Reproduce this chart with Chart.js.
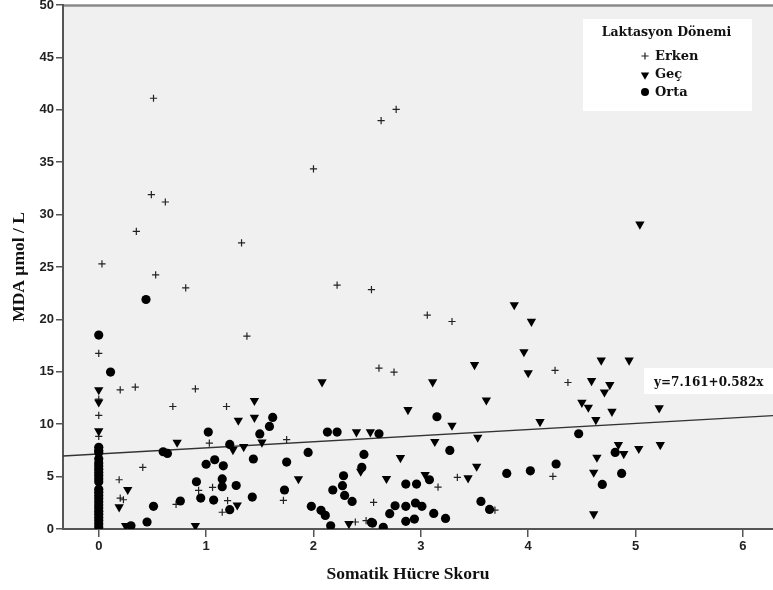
<!DOCTYPE html>
<html>
<head>
<meta charset="utf-8">
<script src="https://cdn.jsdelivr.net/npm/chart.js@4.4.1/dist/chart.umd.min.js"></script>
<style>
  html, body { margin: 0; padding: 0; background: #ffffff; overflow: hidden; }
  #wrap { width: 773px; height: 590px; position: relative; }
  canvas { display: block; }
</style>
</head>
<body>
<div id="wrap"><canvas id="c" width="773" height="590"></canvas></div>
<script>
// ---- data ----
const seriesNames = ['Erken', 'Geç', 'Orta'];
const legendTitle = 'Laktasyon Dönemi';
const xTitle = 'Somatik Hücre Skoru';
const yTitle = 'MDA µmol / L';
const xTicks = [0, 1, 2, 3, 4, 5, 6];
const yTicks = [0, 5, 10, 15, 20, 25, 30, 35, 40, 45, 50];
const regIntercept = 7.161;
const regSlope = 0.582;
const regLabel = 'y=7.161+0.582x';

const erkenX = [0.51, 0.49, 0.62, 0.35, 1.33, 0.03, 0.53, 0.81, 1.38, 0.00, 2.77, 2.63, 2.00, 2.22, 2.54, 3.06, 3.29, 2.61, 2.75, 0.20, 0.34, 0.90, 0.00, 0.00, 0.69, 1.19, 0.00, 1.03, 1.75, 0.41, 1.06, 0.93, 0.19, 0.20, 0.23, 0.72, 1.20, 1.15, 1.72, 2.56, 2.39, 2.49, 3.16, 3.34, 3.69, 4.25, 4.37, 4.23];
const erkenY = [41.1, 31.9, 31.2, 28.4, 27.3, 25.3, 24.25, 23.0, 18.4, 16.75, 40.05, 38.97, 34.36, 23.27, 22.85, 20.4, 19.8, 15.35, 14.97, 13.28, 13.54, 13.38, 12.4, 10.85, 11.69, 11.69, 8.83, 8.2, 8.52, 5.88, 3.97, 3.68, 4.7, 2.95, 2.79, 2.35, 2.7, 1.6, 2.73, 2.54, 0.67, 0.79, 4.0, 4.92, 1.8, 15.13, 13.98, 5.02];

const gecX = [0.00, 0.00, 0.00, 0.27, 0.19, 0.25, 0.90, 0.73, 1.30, 1.45, 1.45, 1.25, 1.35, 1.29, 1.52, 1.86, 2.08, 3.11, 3.61, 2.88, 3.29, 2.40, 2.53, 3.53, 3.13, 2.81, 3.52, 2.44, 2.68, 3.04, 3.44, 2.33, 3.50, 5.04, 3.87, 4.03, 3.96, 4.68, 4.94, 4.00, 4.59, 4.76, 4.71, 4.50, 4.56, 4.78, 5.22, 4.11, 4.63, 4.84, 4.89, 5.03, 5.23, 4.64, 4.61, 4.61];
const gecY = [13.28, 12.1, 9.35, 3.75, 2.1, 0.31, 0.31, 8.26, 10.36, 12.24, 10.64, 7.56, 7.85, 2.28, 8.28, 4.78, 14.02, 14.02, 12.3, 11.38, 9.88, 9.25, 9.25, 8.74, 8.33, 6.8, 5.97, 5.5, 4.8, 5.18, 4.86, 0.5, 15.67, 29.08, 21.39, 19.8, 16.9, 16.1, 16.1, 14.9, 14.14, 13.76, 13.06, 12.07, 11.6, 11.21, 11.54, 10.23, 10.42, 8.04, 7.18, 7.66, 8.04, 6.83, 5.4, 1.43];

const ortaX = [0.44, 0.00, 0.11, 0.00, 0.00, 0.00, 0.00, 0.00, 0.00, 0.00, 0.00, 0.00, 0.00, 0.00, 0.00, 0.00, 0.00, 0.00, 0.00, 0.00, 0.00, 0.00, 0.00, 0.00, 0.00, 0.00, 0.00, 0.30, 0.45, 0.51, 0.76, 0.60, 0.64, 1.02, 1.22, 1.08, 1.00, 1.16, 1.44, 1.15, 0.91, 1.15, 1.28, 0.95, 1.07, 1.43, 1.22, 1.62, 1.59, 1.50, 2.13, 2.22, 2.61, 3.15, 3.27, 1.95, 2.47, 1.75, 2.45, 2.28, 3.08, 3.80, 2.86, 2.96, 2.27, 2.18, 1.73, 2.29, 2.36, 3.56, 2.95, 3.01, 2.76, 2.86, 1.98, 3.64, 2.07, 2.11, 2.71, 3.12, 3.23, 2.86, 2.94, 2.16, 2.54, 2.55, 2.65, 4.47, 4.81, 4.26, 4.02, 4.87, 4.69];
const ortaY = [21.9, 18.5, 14.97, 7.8, 7.5, 7.3, 6.7, 6.3, 6.0, 5.7, 5.4, 5.1, 4.8, 4.5, 3.8, 3.5, 3.2, 2.9, 2.6, 2.3, 2.0, 1.7, 1.4, 1.1, 0.8, 0.5, 0.2, 0.31, 0.67, 2.16, 2.67, 7.37, 7.21, 9.25, 8.07, 6.61, 6.18, 6.03, 6.68, 4.78, 4.51, 4.03, 4.15, 2.95, 2.76, 3.05, 1.84, 10.65, 9.79, 9.07, 9.25, 9.25, 9.09, 10.71, 7.5, 7.31, 7.12, 6.39, 5.88, 5.08, 4.7, 5.3, 4.29, 4.29, 4.13, 3.72, 3.72, 3.2, 2.63, 2.63, 2.48, 2.16, 2.22, 2.16, 2.16, 1.87, 1.78, 1.3, 1.46, 1.49, 1.01, 0.73, 0.95, 0.31, 0.63, 0.57, 0.16, 9.09, 7.31, 6.2, 5.55, 5.3, 4.25];

const xMin = -0.333, xMax = 6.28, yMin = 0, yMax = 50;

// ---- build datasets ----
const pts = (xs, ys) => xs.map((x, i) => ({ x: x, y: ys[i] }));
const SERIF = '"Liberation Serif", "Times New Roman", serif';
const WSERIF = '"DejaVu Serif", serif';
const SANS = '"Liberation Sans", Arial, sans-serif';

const datasets = [
  { label: seriesNames[0], data: pts(erkenX, erkenY), pointStyle: 'cross', pointRadius: 3.6,
    borderColor: '#222', backgroundColor: '#222', borderWidth: 1.2, pointBorderWidth: 1.2, order: 2 },
  { label: seriesNames[1], data: pts(gecX, gecY), pointStyle: 'triangle', pointRotation: 180, pointRadius: 5.4,
    backgroundColor: '#000', borderColor: '#000', pointBorderWidth: 0, borderWidth: 0, order: 1 },
  { label: seriesNames[2], data: pts(ortaX, ortaY), pointStyle: 'circle', pointRadius: 4.6,
    backgroundColor: '#000', borderColor: '#000', pointBorderWidth: 0, borderWidth: 0, order: 0 },
  { label: 'fit', type: 'line', showLine: true,
    data: [xMin, xMax].map(x => ({ x: x, y: regIntercept + regSlope * x })),
    borderColor: '#333', borderWidth: 1.4, pointRadius: 0, fill: false, order: 3 }
];

const bgPlugin = {
  id: 'plotBg',
  beforeDraw(chart) {
    const { ctx, chartArea: a } = chart;
    ctx.save();
    ctx.fillStyle = '#f0f0f0';
    ctx.fillRect(a.left, a.top, a.right - a.left, a.bottom - a.top);
    ctx.strokeStyle = '#8a8a8a';
    ctx.lineWidth = 2.5;
    ctx.beginPath();
    ctx.moveTo(a.left, a.top + 0.5);
    ctx.lineTo(a.right, a.top + 0.5);
    ctx.stroke();
    ctx.restore();
  },
  afterDraw(chart) {
    const { ctx } = chart;
    ctx.save();
    // legend box
    const lx = 583, ly = 19, lw = 169, lh = 92;
    ctx.fillStyle = '#ffffff';
    ctx.fillRect(lx, ly, lw, lh);
    ctx.fillStyle = '#111';
    ctx.textBaseline = 'middle';
    ctx.textAlign = 'center';
    ctx.font = 'bold 12.5px ' + WSERIF;
    ctx.fillText(legendTitle, lx + lw / 2 - 1, 33);
    const rows = [56, 74, 92];
    ctx.textAlign = 'left';
    ctx.font = 'bold 13px ' + WSERIF;
    for (let i = 0; i < 3; i++) {
      const ds = chart.data.datasets[i];
      ctx.fillText(ds.label, 655, rows[i] + 1);
      ctx.fillStyle = ds.backgroundColor;
      ctx.strokeStyle = ds.borderColor;
      ctx.lineWidth = ds.pointBorderWidth || 0;
      Chart.helpers.drawPoint(ctx, {
        pointStyle: ds.pointStyle, rotation: ds.pointRotation || 0,
        radius: i === 2 ? 4 : (i === 1 ? 4.8 : 3.6), borderWidth: ds.pointBorderWidth || 0
      }, 645, rows[i] + (i === 1 ? 1 : 0));
      ctx.fillStyle = '#111';
    }
    // regression label
    ctx.fillStyle = '#ffffff';
    ctx.fillRect(644, 368, 129, 26);
    ctx.fillStyle = '#111';
    ctx.font = 'bold 12px ' + WSERIF;
    ctx.textAlign = 'left';
    ctx.fillText(regLabel, 654, 383);
    // x axis title
    ctx.textAlign = 'center';
    ctx.font = 'bold 17.5px ' + SERIF;
    ctx.fillText(xTitle, 408, 574);
    ctx.restore();
  }
};

new Chart(document.getElementById('c'), {
  type: 'scatter',
  data: { datasets: datasets },
  plugins: [bgPlugin],
  options: {
    responsive: false,
    animation: false,
    events: [],
    layout: { autoPadding: false, padding: { top: 5, right: 0, left: 0, bottom: 0 } },
    plugins: { legend: { display: false }, tooltip: { enabled: false } },
    scales: {
      x: {
        type: 'linear', min: xMin, max: xMax,
        afterBuildTicks: s => { s.ticks = xTicks.map(v => ({ value: v })); },
        afterFit: s => { s.height = 61; s.paddingLeft = 0; s.paddingRight = 0; },
        border: { display: true, color: '#555', width: 2 },
        grid: { display: true, drawOnChartArea: false, drawTicks: true, tickLength: 8, color: '#555', lineWidth: 1.5 },
        ticks: { padding: 2, color: '#222', font: { family: SANS, size: 13, weight: 'bold' }, callback: v => String(v) }
      },
      y: {
        type: 'linear', min: yMin, max: yMax,
        afterBuildTicks: s => { s.ticks = yTicks.map(v => ({ value: v })); },
        afterFit: s => { s.width = 63; s.paddingTop = 0; s.paddingBottom = 0; },
        border: { display: true, color: '#555', width: 2 },
        grid: { display: true, drawOnChartArea: false, drawTicks: true, tickLength: 7, color: '#555', lineWidth: 1.5 },
        ticks: { padding: 2, color: '#222', font: { family: SANS, size: 13, weight: 'bold' }, callback: v => String(v) },
        title: { display: true, text: yTitle, color: '#111', padding: { top: 9, bottom: 0 },
          font: { family: SERIF, size: 17.5, weight: 'bold' } }
      }
    }
  }
});
</script>
</body>
</html>
